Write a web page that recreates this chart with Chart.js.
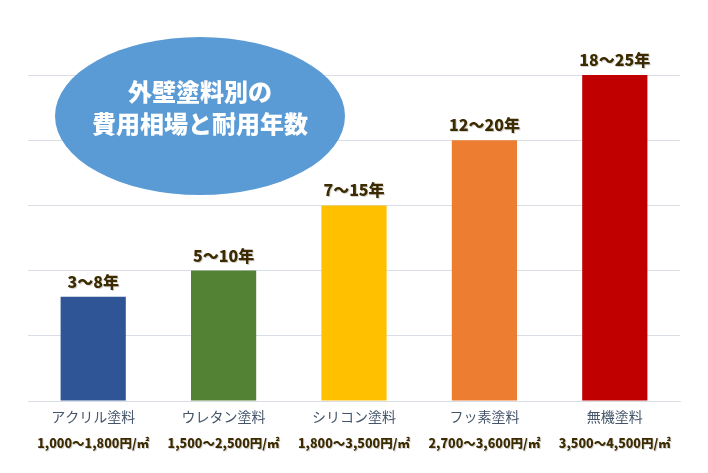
<!DOCTYPE html>
<html><head><meta charset="utf-8">
<script src="https://cdn.jsdelivr.net/npm/chart.js@4"></script>
<style>html,body{margin:0;padding:0;background:#fff}#w{width:708px;height:473px}</style>
</head><body><div id="w"><canvas id="c"></canvas></div>
<script>
const categories = ["アクリル塗料","ウレタン塗料","シリコン塗料","フッ素塗料","無機塗料"];
const prices = ["1,000～1,800円/㎡","1,500～2,500円/㎡","1,800～3,500円/㎡","2,700～3,600円/㎡","3,500～4,500円/㎡"];
const lifeLabels = ["3～8年","5～10年","7～15年","12～20年","18～25年"];
const lifeMax = [8,10,15,20,25];
const colors = ["#2f5597","#548235","#ffc000","#ed7d31","#c00000"];
const titleLines = ["外壁塗料別の","費用相場と耐用年数"];
const FONT = '"Noto Sans CJK JP","Noto Sans",sans-serif';

const deco = {
  id:'deco',
  afterDatasetsDraw(chart){
    const ctx = chart.ctx, meta = chart.getDatasetMeta(0), xs = chart.scales.x;
    ctx.save();
    ctx.textAlign='center';
    meta.data.forEach((b,i)=>{
      ctx.font='900 16px '+FONT;
      ctx.fillStyle='rgba(0,0,0,0.18)';
      ctx.fillText(lifeLabels[i], b.x+1, b.y-8);
      ctx.fillStyle='#3d2b00';
      ctx.fillText(lifeLabels[i], b.x, b.y-9);
      const x = xs.getPixelForValue(i);
      ctx.font='14px '+FONT;
      ctx.fillStyle='#44546a';
      ctx.textBaseline='middle';
      ctx.fillText(categories[i], x, 417);
      ctx.font='900 12.5px '+FONT;
      ctx.fillStyle='rgba(0,0,0,0.18)';
      ctx.fillText(prices[i], x+1, 444);
      ctx.fillStyle='#3d2b00';
      ctx.fillText(prices[i], x, 443);
      ctx.textBaseline='alphabetic';
    });
    ctx.beginPath();
    ctx.ellipse(200,116,145,79,0,0,Math.PI*2);
    ctx.fillStyle='#5b9bd5';
    ctx.fill();
    ctx.fillStyle='#fff';
    ctx.font='900 24px '+FONT;
    ctx.textBaseline='middle';
    ctx.fillText(titleLines[0],200,92);
    ctx.fillText(titleLines[1],200,124);
    ctx.restore();
  }
};

new Chart(document.getElementById('c'),{
  type:'bar',
  data:{labels:categories,datasets:[{data:lifeMax,backgroundColor:colors,barPercentage:0.5,categoryPercentage:1}]},
  options:{
    responsive:true,maintainAspectRatio:false,animation:false,
    layout:{padding:{left:28,right:28,top:75,bottom:64}},
    plugins:{legend:{display:false},tooltip:{enabled:false}},
    scales:{
      x:{ticks:{display:false},grid:{display:false},border:{color:'#d9dee6'}},
      y:{min:0,max:25,ticks:{display:false,stepSize:5},grid:{color:'#d9dee6',drawTicks:false},border:{display:false}}
    }
  },
  plugins:[deco]
});
</script></body></html>
